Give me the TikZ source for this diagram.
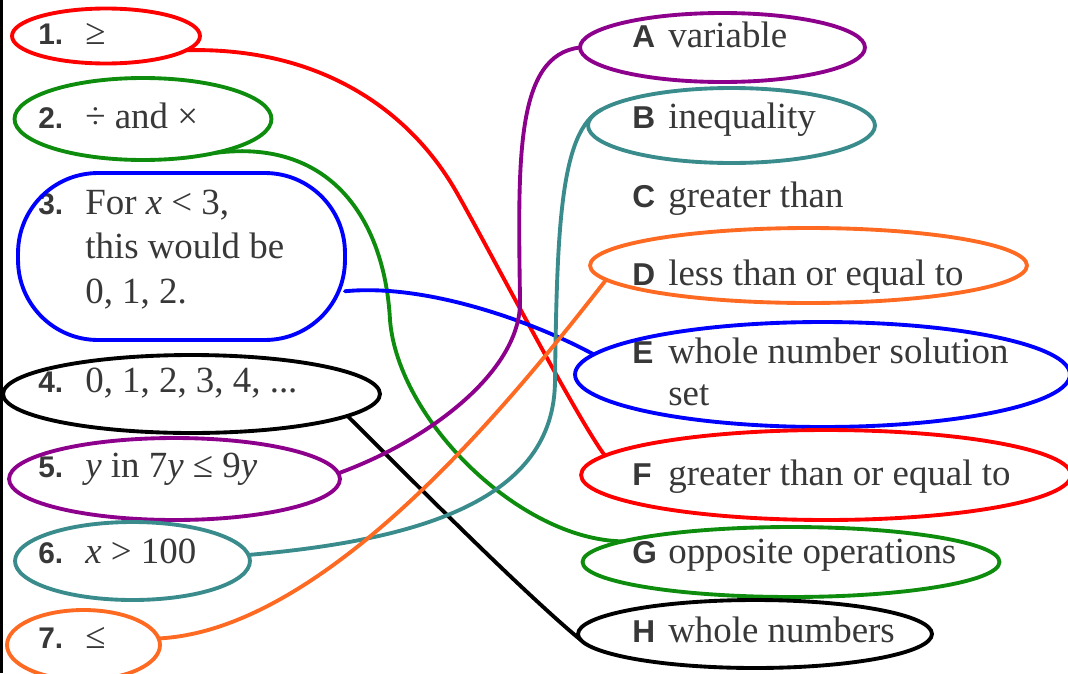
\documentclass[tikz,border=0pt]{standalone}
\usepackage{fontspec}
\setmainfont{Liberation Serif}
\setsansfont{Liberation Sans}
\usepackage{tikz}
\usetikzlibrary{shapes.geometric}
\definecolor{InkRed}{HTML}{FF0000}
\definecolor{InkGreen}{HTML}{0E8C0E}
\definecolor{InkBlue}{HTML}{0000FF}
\definecolor{InkPurple}{HTML}{8C008C}
\definecolor{InkTeal}{HTML}{3A8C8C}
\definecolor{InkOrange}{HTML}{FF6A22}
\definecolor{Print}{HTML}{383838}
\newcommand{\leftnum}[1]{\makebox[0.94cm][l]{\fontsize{17}{18}\selectfont\sffamily\bfseries #1}}
\newcommand{\rightlet}[1]{\makebox[0.72cm][l]{\fontsize{18}{18}\selectfont\sffamily\bfseries #1}}
\tikzset{
  item/.style={anchor=base west, inner sep=0pt, text=Print, font=\fontsize{21}{25.5}\selectfont},
  ring/.style={draw=#1, ellipse, line width=2.2pt, inner sep=0pt, outer sep=0pt},
  link/.style={draw=#1, line width=2.2pt, line cap=round}
}

\begin{document}
\begin{tikzpicture}[x=0.02cm, y=-0.02cm]
  \useasboundingbox (0,0) rectangle (1068,673);
  \fill[black] (0,0) rectangle (3,673);
  % terms on the left
  \node[item] (t1) at (38,44) {\leftnum{1.}≥};
  \node[item] (t2) at (38,128) {\leftnum{2.}÷ and ×};
  \node[item] (t3) at (38,214) {\leftnum{3.}\parbox[t]{5cm}{For \textit{x} < 3,\\this would be\\0, 1, 2.}};
  \node[item] (t4) at (38,392) {\leftnum{4.}0, 1, 2, 3, 4, ...};
  \node[item] (t5) at (38,477) {\leftnum{5.}\textit{y} in 7\textit{y} ≤ 9\textit{y}};
  \node[item] (t6) at (38,563) {\leftnum{6.}\textit{x} > 100};
  \node[item] (t7) at (38,648) {\leftnum{7.}≤};
  % meanings on the right
  \node[item] (tA) at (632,47) {\rightlet{A}variable};
  \node[item] (tB) at (632,128) {\rightlet{B}inequality};
  \node[item] (tC) at (632,207) {\rightlet{C}greater than};
  \node[item] (tD) at (632,285) {\rightlet{D}less than or equal to};
  \node[item] (tE) at (632,363) {\rightlet{E}\parbox[t]{7cm}{\baselineskip=24pt whole number solution\\set}};
  \node[item] (tF) at (632,485) {\rightlet{F}greater than or equal to};
  \node[item] (tG) at (632,563) {\rightlet{G}opposite operations};
  \node[item] (tH) at (632,642) {\rightlet{H}whole numbers};
  % hand drawn rings
  \node[ring=InkRed, minimum width=3.76cm, minimum height=1.1cm] (r1) at (106,36) {};
  \node[ring=InkGreen, minimum width=5.14cm, minimum height=1.64cm] (r2) at (143,119) {};
  \node[ring=InkBlue, rectangle, rounded corners=1.6cm, minimum width=6.54cm, minimum height=3.34cm] (r3) at (181.5,256.5) {};
  \node[ring=black, minimum width=7.54cm, minimum height=1.56cm] (r4) at (191.5,394) {};
  \node[ring=InkPurple, minimum width=6.62cm, minimum height=1.64cm] (r5) at (174.5,479) {};
  \node[ring=InkTeal, minimum width=4.7cm, minimum height=1.56cm] (r6) at (132.5,561) {};
  \node[ring=InkOrange, minimum width=3.06cm, minimum height=1.4cm] (r7) at (83.5,645) {};
  \node[ring=InkPurple, minimum width=5.7cm, minimum height=1.38cm] (rA) at (722.5,47.5) {};
  \node[ring=InkTeal, minimum width=5.74cm, minimum height=1.5cm] (rB) at (731.5,125.5) {};
  \node[ring=InkOrange, minimum width=8.74cm, minimum height=1.5cm] (rD) at (808.5,265.5) {};
  \node[ring=InkBlue, minimum width=9.9cm, minimum height=2.1cm] (rE) at (822.5,374.5) {};
  \node[ring=InkRed, minimum width=9.8cm, minimum height=1.8cm] (rF) at (826,475) {};
  \node[ring=InkGreen, minimum width=8.34cm, minimum height=1.4cm] (rG) at (791,562) {};
  \node[ring=black, minimum width=7.08cm, minimum height=1.36cm] (rH) at (755,634) {};
  % matching lines
  \draw[link=InkRed] (r1.-10) .. controls (320,47) and (410,110) .. (457,193) .. controls (490,251) and (575,415) .. (rF.175);
  \draw[link=InkGreen] (r2.-25) .. controls (335,138) and (385,225) .. (390,320) .. controls (398,420) and (520,540) .. (rG.173);
  \draw[link=InkBlue] (r3.-12) .. controls (430,283) and (540,325) .. (rE.175);
  \draw[link=black] (r4.-8) .. controls (390,458) and (520,590) .. (rH.182);
  \draw[link=InkPurple] (r5.2) .. controls (430,440) and (522,370) .. (520,300) .. controls (518,160) and (515,55) .. (rA.west);
  \draw[link=InkTeal] (r6.3) .. controls (420,540) and (555,500) .. (555,380) .. controls (557,230) and (560,130) .. (rB.173);
  \draw[link=InkOrange] (r7.5) .. controls (330,630) and (520,390) .. (rD.184);
\end{tikzpicture}
\end{document}
